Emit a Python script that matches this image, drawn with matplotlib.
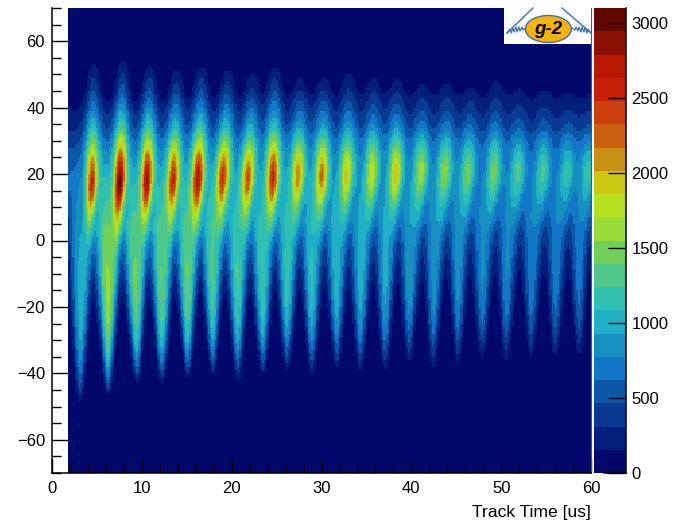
import numpy as np
import matplotlib
matplotlib.use("Agg")
import matplotlib.pyplot as plt
from matplotlib.colors import ListedColormap, BoundaryNorm
from matplotlib.patches import Ellipse, Rectangle

plt.rcParams['font.family'] = ['Liberation Sans', 'DejaVu Sans']

# Values, one entry per oscillation lobe (times in us, heights in track-y units, counts)
crest_time = [1.6, 4.45, 7.57, 10.58, 13.48, 16.26, 19.04, 21.82, 24.61, 27.39, 30.07, 32.85, 35.63, 38.31, 41.09, 43.76, 46.33, 49.22, 51.90, 54.68, 57.35, 59.69, 62.3]
top_time = [1.7, 4.67, 7.91, 10.92, 13.92, 16.71, 19.60, 22.38, 24.83, 27.62, 30.29, 33.08, 35.86, 38.42, 41.20, 43.98, 46.67, 49.44, 52.00, 54.79, 57.46, 59.9, 62.5]
tip_time = [0.5, 3.12, 6.24, 9.47, 12.25, 15.14, 17.93, 20.71, 23.50, 26.17, 28.95, 31.74, 34.30, 37.08, 39.76, 42.43, 45.21, 47.88, 50.56, 53.34, 56.01, 58.69, 61.36]
tip_height = [-50, -50, -47, -43.5, -43.5, -42, -41, -42.5, -41.4, -39.6, -41.4, -39.6, -40.5, -39.9, -38, -39.6, -38.4, -36.9, -38, -36.6, -36.9, -36.6, -36.5]
crest_height = [18, 18, 18.5, 19, 19.5, 19.5, 20, 20, 20, 21, 21, 21, 21.5, 21.5, 22, 22, 22, 22, 22, 22, 22, 22, 22]
top_height = [50, 54, 54, 53, 52, 53, 52, 51, 53, 50, 50, 52, 51, 50, 49, 50, 49, 51, 49, 49, 48, 47, 47]
crest_counts = [800, 2750, 3100, 2900, 2650, 2800, 2550, 2400, 2600, 2200, 2250, 2000, 1850, 2000, 1700, 1600, 1500, 1500, 1350, 1300, 1200, 1200, 1150]
rising_counts = [100, 1150, 1550, 1200, 1200, 1250, 1150, 1100, 1050, 950, 950, 850, 800, 800, 750, 700, 650, 620, 580, 550, 500, 480, 470]
body_counts = [950, 1550, 1400, 1350, 1350, 1250, 1200, 1150, 1100, 1050, 1000, 950, 900, 850, 800, 780, 750, 720, 700, 680, 650, 630, 600]

# Along-lobe intensity
upper_frac = [0, .15, .3, .45, .6, .75, .9, 1, 1.1]
upper_level = [1, .85, .62, .45, .32, .22, .12, .05, 0]
tail_frac = [0, .3, .5, .7, .85, 1]
tail_level = [1, 1, .8, .5, .2, 0]
body_frac = [0, .08, .2, .35, .55, .75, 1, 1.2, 1.4]
body_level = [.05, .38, .72, .92, 1, .92, .55, .2, 0]
haze_height = [-2, 3, 10, 18, 30, 35, 40, 45, 55]
haze_counts = [0, 30, 100, 200, 170, 80, 30, 10, 0]
ridge_offset = [-20, 0, 10, 20, 30]
ridge_sigma = [.36, .46, .56, .62, .5]

speck_time = [3.1, 3.1, 3.1, 3.1]
speck_height = [-66, -64, -60, -55]
speck_counts = [200, 250, 200, 170]

first_filled_time = 1.8
x_edges = np.arange(0, 60.01, 0.15)
y_edges = np.arange(-70, 70.01, 1.0)
level_colors = ['#01086B', '#021F7C', '#083A92', '#0B57A8', '#1177C6', '#1690BE', '#1FB0C6', '#30C0B0', '#50C88A', '#72D058',
                '#98DC38', '#B4E020', '#CCC810', '#C89010', '#CC6010', '#CC4010', '#C82008', '#B81800', '#8C1000', '#600800']
color_edges = np.linspace(0, 3100, 21)
x_ticks = [0, 10, 20, 30, 40, 50, 60]
y_ticks = [-60, -40, -20, 0, 20, 40, 60]
bar_ticks = [0, 500, 1000, 1500, 2000, 2500, 3000]

xc = 0.5 * (x_edges[:-1] + x_edges[1:])
yc = 0.5 * (y_edges[:-1] + y_edges[1:])
T, Y = np.meshgrid(xc, yc)

Z = 20 + np.interp(Y, haze_height, haze_counts)


def gauss(d, s):
    return np.exp(-0.5 * (d / s) ** 2)


APEX_FRAC = 0.75
for k in range(len(crest_time)):
    c, cy, top = crest_time[k], crest_height[k], top_height[k]
    pk, ar = crest_counts[k], rising_counts[k]
    if k > 0:
        cp = crest_time[k - 1]
        tip, th = tip_time[k], tip_height[k]
        q = (Y - th) / (cy - th)
        inside = q >= 0
        open_frac = np.clip(q / APEX_FRAC, 0, 1)
        left = tip - (tip - cp) * open_frac
        right = tip + (c - tip) * open_frac
        centre = 0.5 * (left + right)
        sig = 0.23 * (right - left) + 0.2
        Z += np.where(inside, body_counts[k - 1] * np.interp(q, body_frac, body_level) * gauss(T - centre, sig), 0)
    amp = max(pk - 0.35 * body_counts[k] - np.interp(cy, haze_height, haze_counts), 0)
    tail = 0.35 * ar
    core = max(amp - tail, 0)
    u = np.clip((Y - cy) / (top - cy), 0, 2)
    h = np.clip((cy - Y) / (cy - tip_height[k]), 0, 2)
    above = Y >= cy
    pos = np.where(above, c + (top_time[k] - c) * u, c + (tip_time[k] - c) * h)
    sigma = np.interp(Y - cy, ridge_offset, ridge_sigma) * (1 + c / 200)
    level = np.where(above, amp * np.interp(u, upper_frac, upper_level),
                     core * gauss(Y - cy, 8.5) + tail * np.interp(h, tail_frac, tail_level))
    Z += level * gauss(T - pos, sigma)

for t, h, n in zip(speck_time, speck_height, speck_counts):
    Z[np.searchsorted(y_edges, h) - 1, np.searchsorted(x_edges, t) - 1] = n

Z = np.ma.masked_where(T < first_filled_time, Z)

W, H = 674, 524
fig = plt.figure(figsize=(W / 100, H / 100), dpi=100, facecolor='white')
ax = fig.add_axes([52 / W, (H - 473) / H, (591 - 52) / W, (473 - 8) / H])
cmap = ListedColormap(level_colors)
norm = BoundaryNorm(color_edges, cmap.N, clip=True)
mesh = ax.pcolormesh(x_edges, y_edges, Z, cmap=cmap, norm=norm, shading='flat', antialiased=False, rasterized=True)
ax.set_xlim(0, 60)
ax.set_ylim(-70, 70)
ax.set_xticks(x_ticks)
ax.set_yticks(y_ticks)
ax.set_xticks(np.arange(0, 61, 2), minor=True)
ax.set_yticks(np.arange(-70, 71, 5), minor=True)
ax.tick_params(which='major', direction='in', length=11.5, width=1.0, labelsize=12, color='black', pad=5)
ax.tick_params(which='minor', direction='in', length=6.5, width=1.0, color='black')
ax.tick_params(axis='x', which='major', length=10, pad=6)
ax.spines['top'].set_visible(False)
ax.spines['right'].set_linewidth(0.8)
ax.spines['right'].set_color('#555555')
for s in ('left', 'bottom'):
    ax.spines[s].set_linewidth(1.1)
ax.set_xlabel('Track Time [us]', fontsize=12.6, loc='right', labelpad=6)

cax = fig.add_axes([594 / W, (H - 473) / H, (626 - 594) / W, (473 - 8) / H])
cb = fig.colorbar(mesh, cax=cax, ticks=bar_ticks, spacing='proportional')
cb.outline.set_visible(False)
cb.ax.minorticks_off()
cax.tick_params(direction='in', length=13, width=1.0, labelsize=12, color='black', pad=4)
cax.plot([1, 1], [0, 1], transform=cax.transAxes, color='black', lw=1.1, clip_on=False)
cax.plot([0.3, 1], [0, 0], transform=cax.transAxes, color='black', lw=1.1, clip_on=False)

# g-2 logo in pixel coordinates
lg = fig.add_axes([0, 0, 1, 1], facecolor='none')
lg.set_xlim(0, W)
lg.set_ylim(H, 0)
lg.axis('off')
lg.add_patch(Rectangle((504, 8), 87, 36, facecolor='white', edgecolor='none'))
blue = '#3A6FC0'
lg.plot([507, 533], [33, 8], color=blue, lw=1)
lg.plot([562, 591], [8, 33], color=blue, lw=1)
zz_x = [507, 510, 511, 513, 514, 516, 517, 519, 520, 522, 523, 526]
zz_y = [33, 29, 33, 28, 32, 27, 32, 27, 31, 27, 30, 28]
lg.plot(zz_x, zz_y, color=blue, lw=0.9)
lg.plot([1098 - x for x in zz_x], zz_y, color=blue, lw=0.9)
lg.add_patch(Ellipse((548.3, 29.0), 46, 27, facecolor='#F7B500', edgecolor=blue, lw=1.0))
lg.text(548.3, 29.5, 'g-2', ha='center', va='center', fontsize=13.5, fontweight='bold', fontstyle='italic', color='black')

fig.savefig('out.png', dpi=100)
